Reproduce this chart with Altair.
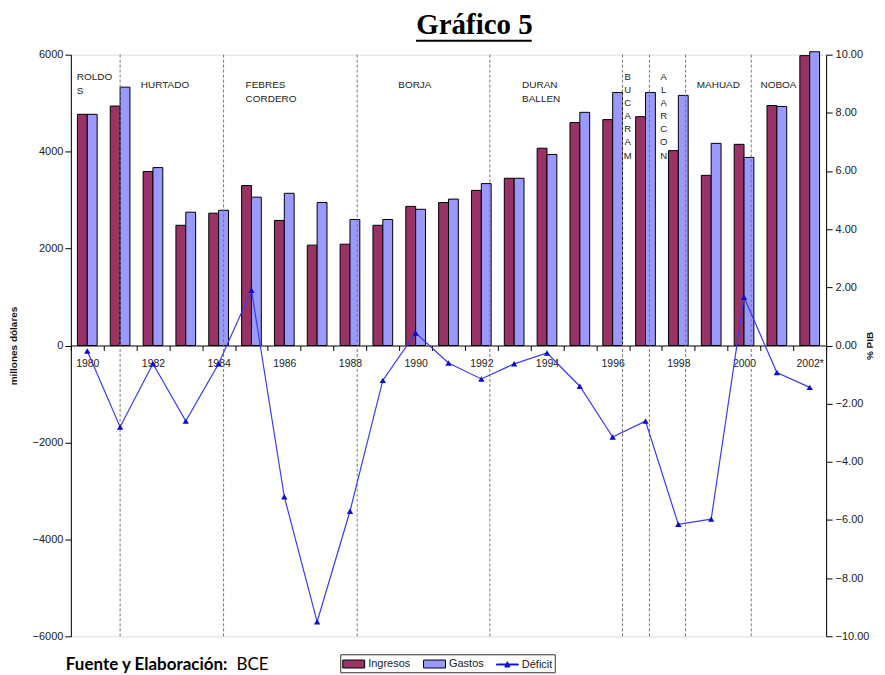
import json
import altair as alt
import pandas as pd

# ---------------- data ----------------
years = list(range(1980, 2003))
ingresos = [4770, 4940, 3590, 2480, 2730, 3300, 2580, 2070, 2090, 2480, 2870, 2950,
            3200, 3450, 4070, 4600, 4660, 4720, 4020, 3510, 4150, 4950, 5980]
gastos = [4770, 5330, 3670, 2750, 2790, 3060, 3140, 2950, 2600, 2600, 2810, 3020,
          3340, 3450, 3940, 4810, 5220, 5220, 5160, 4170, 3880, 4930, 6060]
deficit = [-0.19, -2.8, -0.63, -2.6, -0.63, 1.9, -5.2, -9.5, -5.7, -1.2, 0.43, -0.6,
           -1.15, -0.63, -0.26, -1.4, -3.15, -2.6, -6.15, -5.97, 1.66, -0.93, -1.44]
year_labels = ["1980", "", "1982", "", "1984", "", "1986", "", "1988", "", "1990", "",
               "1992", "", "1994", "", "1996", "", "1998", "", "2000", "", "2002*"]

# presidential transitions (fractional years) and government labels
transitions = [1981.0, 1984.15, 1988.22, 1992.26, 1996.3, 1997.12, 1998.22, 2000.22]
gov_names = ["ROLDO\nS", "HURTADO", "FEBRES\nCORDERO", "BORJA", "DURAN\nBALLEN",
             "MAHUAD", "NOBOA"]
gov_x = [1979.68, 1981.63, 1984.82, 1989.47, 1993.24, 1998.56, 2000.5]
gov_y = [5650, 5470, 5470, 5470, 5470, 5470, 5470]
gov_v_names = ["B\nU\nC\nA\nR\nA\nM", "A\nL\nA\nR\nC\nO\nN"]
gov_v_x = [1996.46, 1997.55]
gov_v_y = [5650, 5650]

series = ["Ingresos", "Gastos", "Déficit"]
series_colors = ["#993366", "#9999FF", "#1414D8"]
series_strokes = ["black", "black", "#1414D8"]
series_shapes = ["M-1,-0.57H2.14V0.57H-1Z", "M-1,-0.57H2.14V0.57H-1Z",
                 "M-1,-0.07H2.14V0.07H-1Z M0.2,0.36L0.57,-0.4L0.94,0.36Z"]

W, H = 757, 583
FONT = "Liberation Sans"

df = pd.DataFrame({"year": years, "Ingresos": ingresos, "Gastos": gastos, "deficit": deficit})

xscale = alt.Scale(domain=[1979.5, 2002.5], nice=False, zero=False)
yleft = alt.Scale(domain=[-6000, 6000], nice=False)
yright = alt.Scale(domain=[-10, 10], nice=False)
color_scale = alt.Scale(domain=series, range=series_colors)
shape_scale = alt.Scale(domain=series, range=series_shapes)
stroke_scale = alt.Scale(domain=series, range=series_strokes)

label_expr = f"{json.dumps(year_labels)}[round(datum.value - 1979.5)] || ''"
xaxis = alt.Axis(values=[y - 0.5 for y in years] + [2002.5], labelExpr=label_expr,
                 labelOffset=W / 46, offset=-H / 2, title="", grid=False,
                 domainColor="black", tickColor="black", tickSize=5, labelPadding=8,
                 labelFont=FONT, labelFontSize=10.5, labelColor="#222",
                 labelFlush=False, labelOverlap=False)

yaxis_left = alt.Axis(values=list(range(-6000, 6001, 2000)), format="d",
                      title="millones dólares", titleFont=FONT, titleFontSize=10,
                      titleFontWeight="bold", titleColor="#111", titlePadding=14,
                      labelFont=FONT, labelFontSize=11, labelColor="#222",
                      domainColor="black", tickColor="black", tickSize=6,
                      labelPadding=2, grid=False, orient="left")

yaxis_right = alt.Axis(orient="right", values=list(range(-10, 11, 2)), format=".2f",
                       title="% PIB", titleAngle=270, titleFont=FONT, titleFontSize=10,
                       titleFontWeight="bold", titleColor="#111", titlePadding=6,
                       labelFont=FONT, labelFontSize=11, labelColor="#222",
                       domainColor="black", tickColor="black", tickSize=6,
                       labelPadding=3, grid=False)

legend = alt.Legend(orient="none", legendX=270, legendY=601, direction="horizontal",
                    title=None, strokeColor="#333", fillColor="white", padding=2,
                    symbolSize=196, symbolStrokeWidth=1, labelFont=FONT,
                    labelFontSize=11, labelColor="#222", columnPadding=10,
                    labelOffset=11)

base = alt.Chart(df)

bars = base.transform_fold(["Ingresos", "Gastos"], as_=["serie", "valor"]).transform_calculate(
    x0="datum.year + (datum.serie == 'Ingresos' ? -0.3 : 0)",
    x1="datum.year + (datum.serie == 'Ingresos' ? 0 : 0.3)",
).mark_bar(stroke="black", strokeWidth=1).encode(
    x=alt.X("x0:Q", scale=xscale, axis=xaxis),
    x2="x1:Q",
    y=alt.Y("valor:Q", scale=yleft, axis=yaxis_left, stack=None),
    y2=alt.datum(0),
    color=alt.Color("serie:N", scale=color_scale, legend=legend),
)

rules = alt.Chart(pd.DataFrame({"t": transitions})).mark_rule(
    color="#777", strokeDash=[3, 2], strokeWidth=1
).encode(x=alt.X("t:Q", scale=xscale, axis=xaxis))

gov_df = pd.DataFrame({"name": gov_names, "gx": gov_x, "gy": gov_y})
gov_text = alt.Chart(gov_df).mark_text(
    align="left", baseline="top", lineBreak="\n", lineHeight=14,
    font=FONT, fontSize=10, color="#222"
).encode(
    x=alt.X("gx:Q", scale=xscale, axis=xaxis),
    y=alt.Y("gy:Q", scale=yleft, axis=yaxis_left),
    text="name:N",
)

gov_v_df = pd.DataFrame({"name": gov_v_names, "gx": gov_v_x, "gy": gov_v_y})
gov_v_text = alt.Chart(gov_v_df).mark_text(
    align="center", baseline="top", lineBreak="\n", lineHeight=13.2,
    font=FONT, fontSize=9.5, color="#222"
).encode(
    x=alt.X("gx:Q", scale=xscale, axis=xaxis),
    y=alt.Y("gy:Q", scale=yleft, axis=yaxis_left),
    text="name:N",
)

legend_layer = alt.Chart(pd.DataFrame({"serie": series})).transform_filter(
    "false"
).mark_point(filled=True, opacity=1).encode(
    color=alt.Color("serie:N", scale=color_scale, legend=legend),
    shape=alt.Shape("serie:N", scale=shape_scale, legend=legend),
    stroke=alt.Stroke("serie:N", scale=stroke_scale, legend=legend),
)

one = pd.DataFrame({"a": [0]})
underline = alt.Chart(one).mark_rule(color="black", strokeWidth=2).encode(
    x=alt.value(346), x2=alt.value(462), y=alt.value(-14)
)
footer_bold = alt.Chart(one).mark_text(
    text="Fuente y Elaboración:", align="left", baseline="alphabetic",
    font="Lato", fontSize=17, fontWeight="bold", color="black"
).encode(x=alt.value(-5), y=alt.value(617))
footer_reg = alt.Chart(one).mark_text(
    text="BCE", align="left", baseline="alphabetic",
    font="Lato", fontSize=17, color="black"
).encode(x=alt.value(166), y=alt.value(617))

left_group = alt.layer(bars, rules, gov_text, gov_v_text, legend_layer,
                       underline, footer_bold, footer_reg)

line = base.mark_line(color="#3B3BF0", strokeWidth=1.2).encode(
    x=alt.X("year:Q", scale=xscale, axis=xaxis),
    y=alt.Y("deficit:Q", scale=yright, axis=yaxis_right),
)
points = base.mark_point(shape="triangle-up", filled=True, size=40,
                         color="#0A0ACC", opacity=1).encode(
    x=alt.X("year:Q", scale=xscale, axis=xaxis),
    y=alt.Y("deficit:Q", scale=yright, axis=yaxis_right),
)
right_group = alt.layer(line, points)

chart = alt.layer(left_group, right_group).resolve_scale(y="independent").properties(
    width=W, height=H,
    padding={"left": 0, "top": 2, "right": 2, "bottom": 2},
    title=alt.TitleParams("Gráfico 5", font="Liberation Serif", fontSize=29,
                          fontWeight="bold", color="black", anchor="middle",
                          dx=26, offset=0),
).configure_view(stroke="#888", strokeWidth=1).configure(background="white")

chart.save("out.html", embed_options={"renderer": "svg", "actions": False})
